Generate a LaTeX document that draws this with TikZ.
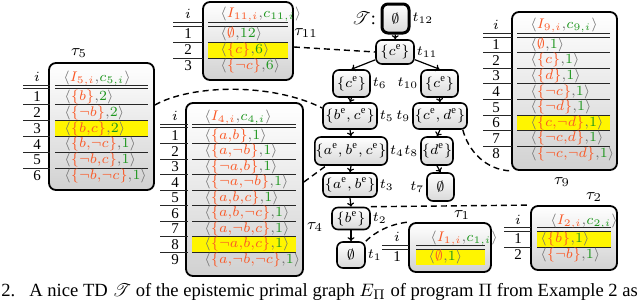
\documentclass[tikz,border=0pt]{standalone}
\usepackage{fontspec}
\setmainfont{Liberation Serif}
\usepackage{mathrsfs}
\usetikzlibrary{arrows.meta,calc}
\definecolor{cI}{RGB}{250,90,40}
\definecolor{cC}{RGB}{30,150,30}
\definecolor{cB}{RGB}{110,110,110}
\definecolor{cH}{RGB}{255,245,0}
\newcommand\rowv[2]{\textcolor{cB}{\langle}\textcolor{cI}{#1}\textcolor{cB}{,}\textcolor{cC}{#2}\textcolor{cB}{\rangle}}
\begin{document}
\begin{tikzpicture}[x=0.5pt,y=-0.5pt,
  tbox/.style={draw=black,line width=0.9pt,rounded corners=3.5pt,top color=white,bottom color=black!18,inner sep=0pt},
  tnode/.style={draw=black,line width=0.8pt,rounded corners=3pt,top color=white,bottom color=black!15,inner xsep=0.3pt,inner ysep=1pt,font=\fontsize{7.5}{9}\selectfont},
  rl/.style={line width=0.5pt,draw=black!85},
  rv/.style={anchor=west,inner sep=0pt,font=\fontsize{7}{8}\selectfont},
  rn/.style={inner sep=0pt,font=\fontsize{7.5}{9}\selectfont},
  hd/.style={inner sep=0pt,font=\fontsize{7}{8}\selectfont},
  tl/.style={inner sep=0pt,font=\fontsize{8}{9}\selectfont},
  tlab/.style={inner sep=0.8pt,font=\fontsize{7.5}{9}\selectfont},
  arr/.style={-{To[length=2pt,width=3.5pt]},line width=0.6pt},
  dc/.style={line width=0.7pt,dash pattern=on 3pt off 2pt}]
\useasboundingbox (0,0) rectangle (640,300);
\fill[white] (0,0) rectangle (640,300);

% ---------- tau 11 ----------
\node[tbox,minimum width=45pt,minimum height=39pt] (T11) at (248,41) {};
\fill[cH] (208,42) rectangle (288,58);
\foreach \y in {22.7,26,42,58} \draw[rl] (173,\y) -- (203,\y) (208,\y) -- (288,\y);
\node[hd] (T11i) at (188,14) {$i$};
\node[hd,anchor=west] (T11h) at (220,14) {$\rowv{I_{11,i}}{c_{11,i}}$};
\foreach \s/\v [count=\k] in {{\emptyset}/12,{\{c\}}/6,{\{\neg c\}}/6}{
  \node[rn] (T11n\k) at (188,{18+16*\k}) {\k};
  \node[rv] (T11r\k) at (220,{18+16*\k}) {$\rowv{\s}{\v}$};
}
\node[tl] (L11) at (306,33) {$\tau_{11}$};

% ---------- tau 5 ----------
\node[tbox,minimum width=52.5pt,minimum height=63.5pt] (T5) at (101.5,126.5) {};
\fill[cH] (55,120.6) rectangle (148,136.4);
\foreach \y in {85,88.6,104.8,120.6,136.4,152.2,168} \draw[rl] (23,\y) -- (50,\y) (55,\y) -- (148,\y);
\node[hd] (T5i) at (37,77) {$i$};
\node[hd,anchor=west] (T5h) at (63,78) {$\rowv{I_{5,i}}{c_{5,i}}$};
\foreach \s/\v [count=\k] in {{\{b\}}/2,{\{\neg b\}}/2,{\{b{,}c\}}/2,{\{b{,}\neg c\}}/1,{\{\neg b{,}c\}}/1,{\{\neg b{,}\neg c\}}/1}{
  \node[rn] (T5n\k) at (37,{81.1+15.8*\k}) {\k};
  \node[rv] (T5r\k) at (64,{81.1+15.8*\k}) {$\rowv{\s}{\v}$};
}
\node[tl] (L5) at (79,53) {$\tau_{5}$};

% ---------- tau 4 ----------
\node[tbox,minimum width=58.5pt,minimum height=86.5pt] (T4) at (244.5,189.5) {};
\fill[cH] (192,236.5) rectangle (296,252);
\foreach \y in {124,127.7,143.5,159,174.5,190,205.5,221,236.5,252} \draw[rl] (160,\y) -- (188,\y) (192,\y) -- (296,\y);
\node[hd] (T4i) at (175,116) {$i$};
\node[hd,anchor=west] (T4h) at (204,117) {$\rowv{I_{4,i}}{c_{4,i}}$};
\foreach \s/\v [count=\k] in {{\{a{,}b\}}/1,{\{a{,}\neg b\}}/1,{\{\neg a{,}b\}}/1,{\{\neg a{,}\neg b\}}/1,{\{a{,}b{,}c\}}/1,{\{a{,}b{,}\neg c\}}/1,{\{a{,}\neg b{,}c\}}/1,{\{\neg a{,}b{,}c\}}/1,{\{a{,}\neg b{,}\neg c\}}/1}{
  \node[rn] (T4n\k) at (175,{120.25+15.5*\k}) {\k};
  \node[rv] (T4r\k) at (204,{120.25+15.5*\k}) {$\rowv{\s}{\v}$};
}
\node[tl] (L4) at (315,227) {$\tau_{4}$};

% ---------- tau 9 ----------
\node[tbox,minimum width=52.5pt,minimum height=79pt] (T9) at (564.5,91) {};
\fill[cH] (517,115) rectangle (610,130.6);
\foreach \y in {33.3,37,52.6,68.2,83.8,99.4,115,130.6,146.2} \draw[rl] (483,\y) -- (512,\y) (517,\y) -- (610,\y);
\node[hd] (T9i) at (496,25) {$i$};
\node[hd,anchor=west] (T9h) at (530,25) {$\rowv{I_{9,i}}{c_{9,i}}$};
\foreach \s/\v [count=\k] in {{\emptyset}/1,{\{c\}}/1,{\{d\}}/1,{\{\neg c\}}/1,{\{\neg d\}}/1,{\{c{,}\neg d\}}/1,{\{\neg c{,}d\}}/1,{\{\neg c{,}\neg d\}}/1}{
  \node[rn] (T9n\k) at (496,{29.2+15.6*\k}) {\k};
  \node[rv] (T9r\k) at (530,{29.2+15.6*\k}) {$\rowv{\s}{\v}$};
}
\node[tl] (L9) at (562,182) {$\tau_{9}$};

% ---------- tau 1 ----------
\node[tbox,minimum width=41pt,minimum height=24.5pt] (T1) at (450,247.5) {};
\fill[cH] (416,249) rectangle (485,264.5);
\foreach \y in {245.5,249} \draw[rl] (382,\y) -- (409,\y) (416,\y) -- (485,\y);
\node[hd] (T1i) at (397,237) {$i$};
\node[hd,anchor=west] (T1h) at (430,238) {$\rowv{I_{1,i}}{c_{1,i}}$};
\node[rn] (T1n1) at (397,256.75) {1};
\node[rv] (T1r1) at (428,256.75) {$\rowv{\emptyset}{1}$};
\node[tl] (L1) at (462,215) {$\tau_{1}$};

% ---------- tau 2 ----------
\node[tbox,minimum width=43pt,minimum height=32pt] (T2) at (574,238) {};
\fill[cH] (537,231) rectangle (611,247);
\foreach \y in {227.5,231,247} \draw[rl] (504,\y) -- (531,\y) (537,\y) -- (611,\y);
\node[hd] (T2i) at (518,220) {$i$};
\node[hd,anchor=west] (T2h) at (550,221) {$\rowv{I_{2,i}}{c_{2,i}}$};
\foreach \s/\v [count=\k] in {{\{b\}}/1,{\{\neg b\}}/1}{
  \node[rn] (T2n\k) at (518,{223+16*\k}) {\k};
  \node[rv] (T2r\k) at (540,{223+16*\k}) {$\rowv{\s}{\v}$};
}
\node[tl] (L2) at (594,197) {$\tau_{2}$};

% ---------- tree ----------
\node[font=\fontsize{9}{10}\selectfont,inner sep=0pt] (TT) at (364,18) {$\mathscr{T}$:};
\node[tnode,line width=1.5pt,minimum width=13.5pt,minimum height=14.5pt] (t12) at (395.5,18.5) {$\emptyset$};
\node[tnode,minimum width=19pt,minimum height=12pt] (t11) at (395,52) {$\{c^{\mathrm{e}}\}$};
\node[tnode,minimum width=18.5pt,minimum height=13.5pt] (t6) at (351.5,83.5) {$\{c^{\mathrm{e}}\}$};
\node[tnode,minimum width=18.5pt,minimum height=13.5pt] (t10) at (439.5,83.5) {$\{c^{\mathrm{e}}\}$};
\node[tnode,minimum width=27pt,minimum height=13pt] (t5) at (350,116) {$\{b^{\mathrm{e}},c^{\mathrm{e}}\}$};
\node[tnode,minimum width=27pt,minimum height=13pt] (t9) at (440,116) {$\{c^{\mathrm{e}},d^{\mathrm{e}}\}$};
\node[tnode,minimum width=36pt,minimum height=14pt] (t4) at (351,151) {$\{a^{\mathrm{e}},b^{\mathrm{e}},c^{\mathrm{e}}\}$};
\node[tnode,minimum width=16pt,minimum height=14pt] (t8) at (437,151) {$\{d^{\mathrm{e}}\}$};
\node[tnode,minimum width=27pt,minimum height=12pt] (t3) at (350,185) {$\{a^{\mathrm{e}},b^{\mathrm{e}}\}$};
\node[tnode,minimum width=13.5pt,minimum height=14pt] (t7) at (440.5,187) {$\emptyset$};
\node[tnode,minimum width=19pt,minimum height=11pt] (t2) at (351,218.5) {$\{b^{\mathrm{e}}\}$};
\node[tnode,minimum width=14pt,minimum height=13pt] (t1) at (351,255) {$\emptyset$};

\node[tlab,anchor=west] (l12) at (t12.east) {$t_{12}$};
\node[tlab,anchor=west] (l11) at (t11.east) {$t_{11}$};
\node[tlab,anchor=west] (l6) at (t6.east) {$t_{6}$};
\node[tlab,anchor=east] (l10) at (t10.west) {$t_{10}$};
\node[tlab,anchor=west] (l5) at (t5.east) {$t_{5}$};
\node[tlab,anchor=east] (l9) at (t9.west) {$t_{9}$};
\node[tlab,anchor=west] (l4) at (t4.east) {$t_{4}$};
\node[tlab,anchor=east] (l8) at (t8.west) {$t_{8}$};
\node[tlab,anchor=west] (l3) at (t3.east) {$t_{3}$};
\node[tlab,anchor=east] (l7) at (t7.west) {$t_{7}$};
\node[tlab,anchor=west] (l2) at (t2.east) {$t_{2}$};
\node[tlab,anchor=west] (l1) at (t1.east) {$t_{1}$};

\draw[arr] (t12) -- (t11);
\draw[arr] (t11) -- (t6.north);
\draw[arr] (t11) -- (t10.north);
\draw[arr] (t6.south) -- (t5.north);
\draw[arr] (t10.south) -- (t9.north);
\draw[arr] (t5.south) -- (t4.north);
\draw[arr] (t9.south) -- (t8.north);
\draw[arr] (t4.south) -- (t3.north);
\draw[arr] (t8.south) -- (t7.north);
\draw[arr] (t3.south) -- (t2.north);
\draw[arr] (t2.south) -- (t1.north);

% ---------- dashed links ----------
\draw[dc] ([yshift=-3pt]T11.east) -- (t11.west);
\draw[dc] ([yshift=10.75pt]T5.east) .. controls (190,85) and (270,82) .. ([yshift=4pt]t5.west);
\draw[dc] ([yshift=3.75pt]T4.east) -- ([xshift=6pt]t4.south west);
\draw[dc] ([xshift=-2.5pt]t9.south east) .. controls (468,150) and (485,170) .. (T9.south west);
\draw[dc] (t2.north east) -- (T2.north west);
\draw[dc] (t1.north east) .. controls (375,232) and (390,224) .. (T1.north west);

% ---------- caption ----------
\node[anchor=base west,inner sep=0pt,font=\fontsize{9.3}{11}\selectfont] (cap) at (1,296) {2.\hspace{7pt}A nice TD $\mathscr{T}$ of the epistemic primal graph $E_\Pi$ of program $\Pi$ from Example 2 as};
\end{tikzpicture}
\end{document}
